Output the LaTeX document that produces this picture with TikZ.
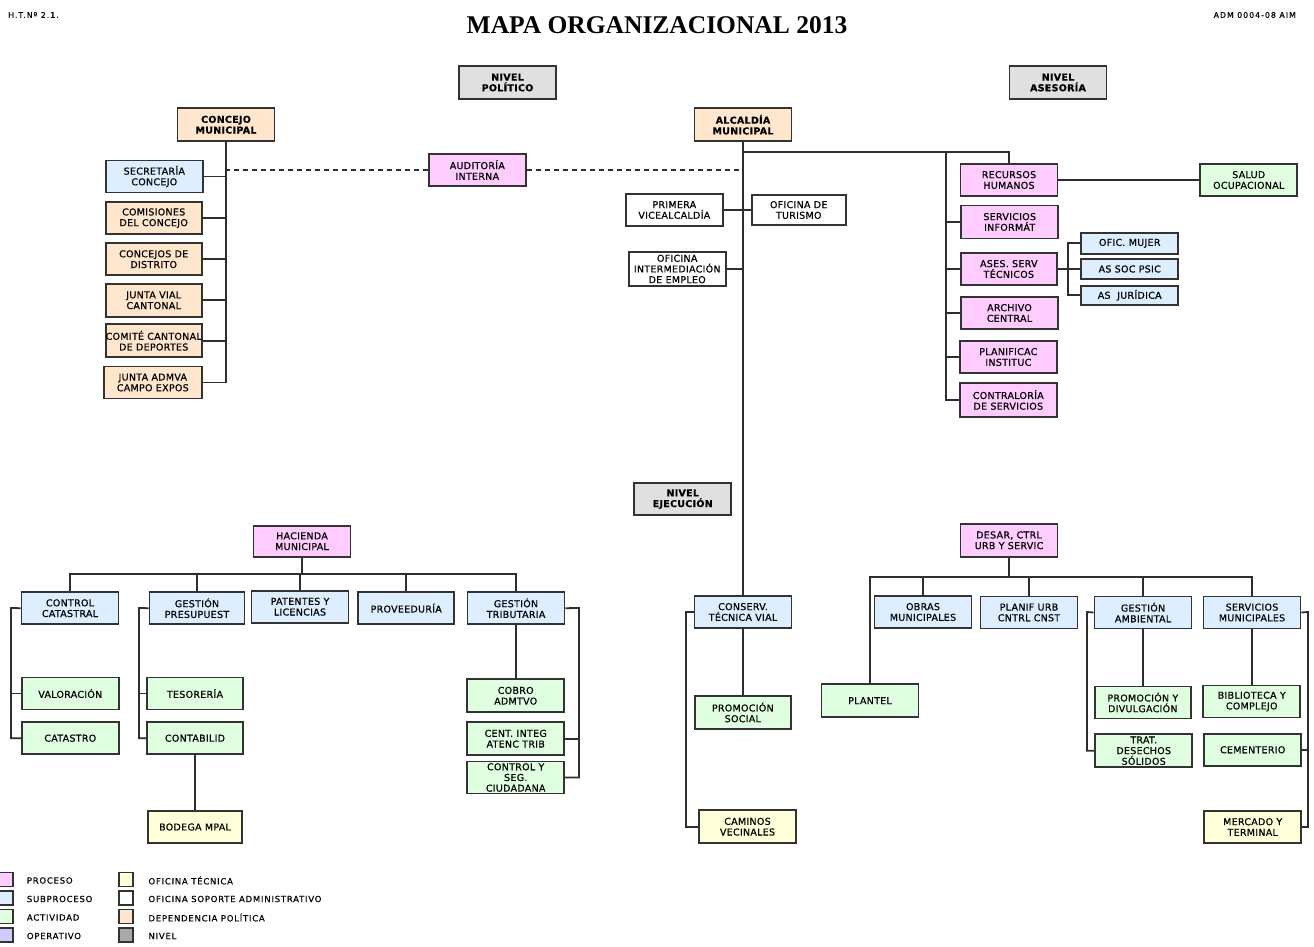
\documentclass[tikz,border=0pt]{standalone}
\usepackage{fontspec}
\newfontfamily\boxfont[LetterSpace=3,FakeBold=0.6]{DejaVu Sans}
\newfontfamily\legfont[LetterSpace=9,FakeBold=0.5]{DejaVu Sans}
\newfontfamily\hdrfont[LetterSpace=13,FakeBold=0.5]{DejaVu Sans}
\newfontfamily\titlefont{Liberation Serif}
\definecolor{procfill}{HTML}{FFCCFF}
\definecolor{subfill}{HTML}{DCEEFF}
\definecolor{actfill}{HTML}{E0FFE0}
\definecolor{opfill}{HTML}{CCCCFF}
\definecolor{tecfill}{HTML}{FFFFD9}
\definecolor{polfill}{HTML}{FFE6CC}
\definecolor{nivfill}{HTML}{E0E0E0}
\definecolor{nivleg}{HTML}{A8A8A8}
\definecolor{edge}{HTML}{333333}
\definecolor{lk}{HTML}{2E2E2E}
\tikzset{
  box/.style={draw=edge, line width=1.8pt, minimum width=97pt, minimum height=32pt,
    inner sep=0pt, align=center, text=black, font=\boxfont\fontsize{9.5}{10.7}\selectfont},
  hdr/.style={box, font=\boxfont\bfseries\fontsize{9.5}{10.7}\selectfont},
  proc/.style={box, fill=procfill},
  sub/.style={box, fill=subfill},
  act/.style={box, fill=actfill},
  tec/.style={box, fill=tecfill},
  pol/.style={box, fill=polfill},
  sop/.style={box, fill=white},
  polh/.style={hdr, fill=polfill},
  nivel/.style={hdr, fill=nivfill},
  link/.style={draw=lk, line width=1.8pt},
  dlink/.style={link, dash pattern=on 5pt off 4pt},
  legsq/.style={draw=edge, line width=1.5pt, minimum width=14pt, minimum height=14pt, inner sep=0pt},
  legtxt/.style={anchor=west, inner sep=0pt, text=black, font=\legfont\fontsize{8.5}{10}\selectfont},
  smalltxt/.style={inner sep=0pt, text=black, font=\hdrfont\fontsize{7.8}{9}\selectfont}
}
\begin{document}
\begin{tikzpicture}[x=1pt,y=-1pt]
\useasboundingbox (0,0) rectangle (1314,947);

% page header
\node[smalltxt, anchor=west] (htn) at (8,15) {H.T.Nº 2.1.};
\node[smalltxt, anchor=east] (adm) at (1296,15) {ADM 0004-08 AIM};
\node[inner sep=0pt, font=\titlefont\bfseries\fontsize{25.5}{30}\selectfont] (title) at (657,25) {MAPA ORGANIZACIONAL 2013};

% levels
\node[nivel, minimum height=33.6pt] (nivpol) at (507.5,82.5) {NIVEL\\POLÍTICO};
\node[nivel, minimum height=33.6pt] (nivase) at (1058,82.5) {NIVEL\\ASESORÍA};
\node[nivel, minimum height=31.7pt] (nivejec) at (682.7,499.2) {NIVEL\\EJECUCIÓN};

% political level
\node[polh, minimum height=33pt] (concejo) at (226,124.7) {CONCEJO\\MUNICIPAL};
\node[polh, minimum height=33pt] (alcaldia) at (743,124.7) {ALCALDÍA\\MUNICIPAL};
\node[sub] (secretaria) at (154.3,176.5) {SECRETARÍA\\CONCEJO};
\node[pol, minimum width=96pt] (comisiones) at (153.7,218.2) {COMISIONES\\DEL CONCEJO};
\node[pol, minimum width=96pt] (concdist) at (153.7,259.2) {CONCEJOS DE\\DISTRITO};
\node[pol, minimum width=96pt, minimum height=32.7pt] (juntavial) at (153.7,300.3) {JUNTA VIAL\\CANTONAL};
\node[pol, minimum width=96pt, minimum height=33pt] (comite) at (153.7,340.8) {COMITÉ CANTONAL\\DE DEPORTES};
\node[pol, minimum width=97.7pt] (juntaadm) at (152.8,382.5) {JUNTA ADMVA\\CAMPO EXPOS};
\node[proc] (auditoria) at (477.3,170) {AUDITORÍA\\INTERNA};
\node[sop] (vicealc) at (674.3,210) {PRIMERA\\VICEALCALDÍA};
\node[sop, minimum width=94pt, minimum height=30.7pt] (turismo) at (798.7,210) {OFICINA DE\\TURISMO};
\node[sop, minimum height=34pt] (ofinter) at (677.2,269) {OFICINA\\INTERMEDIACIÓN\\DE EMPLEO};

% advisory level
\node[proc, minimum height=32.7pt] (rrhh) at (1009,180) {RECURSOS\\HUMANOS};
\node[act, minimum height=32.7pt] (salud) at (1248.7,180) {SALUD\\OCUPACIONAL};
\node[proc, minimum height=33pt] (servinf) at (1009.7,222) {SERVICIOS\\INFORMÁT};
\node[proc, minimum width=95.7pt, minimum height=31.3pt] (asesserv) at (1008.8,269) {ASES. SERV\\TÉCNICOS};
\node[sub, minimum height=21.3pt] (ofmujer) at (1129.7,243.3) {OFIC. MUJER};
\node[sub, minimum height=20pt] (assoc) at (1129.7,269) {AS SOC PSIC};
\node[sub, minimum height=19.3pt] (asjur) at (1129.7,295.3) {AS\ \ JURÍDICA};
\node[proc] (archivo) at (1009.5,313) {ARCHIVO\\CENTRAL};
\node[proc, minimum height=32.7pt] (planif) at (1008.3,357) {PLANIFICAC\\INSTITUC};
\node[proc, minimum height=33.3pt] (contral) at (1008.3,400) {CONTRALORÍA\\DE SERVICIOS};

% execution level: hacienda
\node[proc, minimum height=31pt] (hacienda) at (302,541.2) {HACIENDA\\MUNICIPAL};
\node[sub] (ctrlcat) at (70,608.2) {CONTROL\\CATASTRAL};
\node[sub, minimum width=95pt] (gestpres) at (197,608.2) {GESTIÓN\\PRESUPUEST};
\node[sub] (patentes) at (300,606.7) {PATENTES Y\\LICENCIAS};
\node[sub, minimum width=95.7pt] (proveed) at (406.2,608.2) {PROVEEDURÍA};
\node[sub] (gesttrib) at (516,608.2) {GESTIÓN\\TRIBUTARIA};
\node[act] (valor) at (70.3,693.5) {VALORACIÓN};
\node[act] (catastro) at (70.3,738.2) {CATASTRO};
\node[act, minimum width=95.4pt] (tesoreria) at (195,693.5) {TESORERÍA};
\node[act, minimum width=95.4pt] (contab) at (195,738.2) {CONTABILID};
\node[tec, minimum width=94.6pt, minimum height=32.6pt] (bodega) at (195,827) {BODEGA MPAL};
\node[act, minimum height=33pt] (cobro) at (515.7,695.8) {COBRO\\ADMTVO};
\node[act, minimum height=32.7pt] (centinteg) at (515.7,738.7) {CENT. INTEG\\ATENC TRIB};
\node[act] (ctrlseg) at (515.7,777.5) {CONTROL Y\\SEG.\\CIUDADANA};

% execution level: roads
\node[sub] (conserv) at (743,612) {CONSERV.\\TÉCNICA VIAL};
\node[act, minimum width=95.7pt, minimum height=33pt] (promsoc) at (742.8,712.5) {PROMOCIÓN\\SOCIAL};
\node[tec, minimum height=33.3pt] (caminos) at (747.5,826.7) {CAMINOS\\VECINALES};

% execution level: urban development
\node[proc, minimum height=32.7pt] (desar) at (1009,540.3) {DESAR, CTRL\\URB Y SERVIC};
\node[act, minimum height=33.3pt] (plantel) at (870,700.7) {PLANTEL};
\node[sub] (obras) at (923,612) {OBRAS\\MUNICIPALES};
\node[sub] (planurb) at (1029,612.5) {PLANIF URB\\CNTRL CNST};
\node[sub] (gestamb) at (1143,612.5) {GESTIÓN\\AMBIENTAL};
\node[sub] (servmun) at (1252,612.5) {SERVICIOS\\MUNICIPALES};
\node[act, minimum width=95.7pt] (promdiv) at (1142.8,702.5) {PROMOCIÓN Y\\DIVULGACIÓN};
\node[act, minimum height=33.3pt] (trat) at (1143.7,750.7) {TRAT.\\DESECHOS\\SÓLIDOS};
\node[act] (biblio) at (1251.7,701.5) {BIBLIOTECA Y\\COMPLEJO};
\node[act] (cement) at (1252.7,749.8) {CEMENTERIO};
\node[tec, minimum height=32.6pt] (mercado) at (1252.7,827) {MERCADO Y\\TERMINAL};

% junction points
\coordinate (aj) at (743,152);
\coordinate (rail) at (946,152);
\coordinate (abr) at (1068,269);
\coordinate (hbar) at (302,574);
\coordinate (ccbr) at (11,608);
\coordinate (gpbr) at (139,608);
\coordinate (gtbr) at (579,608);
\coordinate (cvbr) at (686,612);
\coordinate (dbar) at (1009,577);
\coordinate (gabr) at (1087,612);
\coordinate (smbr) at (1308,612);

% concejo branch
\draw[link] (concejo.south) -- (concejo.south |- juntaadm.east) -- (juntaadm.east);
\foreach \n in {secretaria,comisiones,concdist,juntavial,comite}
  \draw[link] (\n.east) -- (\n.east -| concejo.south);
\draw[dlink] (auditoria.west) -- (auditoria.west -| concejo.south);
\draw[dlink] (auditoria.east) -- (auditoria.east -| alcaldia.south);

% alcaldia trunk
\draw[link] (alcaldia.south) -- (alcaldia.south |- conserv.north);
\draw[link] (vicealc.east) -- (turismo.west);
\draw[link] (ofinter.east) -- (ofinter.east -| alcaldia.south);

% advisory branch
\draw[link] (aj) -- (aj -| rrhh.north) -- (rrhh.north);
\draw[link] (rail) -- (rail |- contral.west) -- (contral.west);
\foreach \n in {servinf,asesserv,archivo,planif}
  \draw[link] (\n.west) -- (\n.west -| rail);
\draw[link] (rrhh.east) -- (salud.west);
\draw[link] (asesserv.east) -- (abr);
\draw[link] (ofmujer.west) -- (ofmujer.west -| abr) -- (asjur.west -| abr) -- (asjur.west);
\draw[link] (assoc.west) -- (assoc.west -| abr);

% hacienda branch
\draw[link] (hacienda.south) -- (hacienda.south |- hbar);
\draw[link] (ctrlcat.north) -- (ctrlcat.north |- hbar) -- (gesttrib.north |- hbar) -- (gesttrib.north);
\foreach \n in {gestpres,patentes,proveed}
  \draw[link] (\n.north) -- (\n.north |- hbar);
\draw[link] (ctrlcat.west) -- (ccbr) -- (ccbr |- catastro.west) -- (catastro.west);
\draw[link] (valor.west) -- (valor.west -| ccbr);
\draw[link] (gestpres.west) -- (gpbr) -- (gpbr |- contab.west) -- (contab.west);
\draw[link] (tesoreria.west) -- (tesoreria.west -| gpbr);
\draw[link] (contab.south) -- (contab.south |- bodega.north);
\draw[link] (gesttrib.south) -- (gesttrib.south |- cobro.north);
\draw[link] (gesttrib.east) -- (gtbr) -- (gtbr |- ctrlseg.east) -- (ctrlseg.east);
\draw[link] (centinteg.east) -- (centinteg.east -| gtbr);

% roads branch
\draw[link] (conserv.south) -- (conserv.south |- promsoc.north);
\draw[link] (conserv.west) -- (cvbr) -- (cvbr |- caminos.west) -- (caminos.west);

% urban development branch
\draw[link] (desar.south) -- (dbar);
\draw[link] (plantel.north) -- (plantel.north |- dbar) -- (servmun.north |- dbar) -- (servmun.north);
\foreach \n in {obras,planurb,gestamb}
  \draw[link] (\n.north) -- (\n.north |- dbar);
\draw[link] (gestamb.south) -- (gestamb.south |- promdiv.north);
\draw[link] (gestamb.west) -- (gabr) -- (gabr |- trat.west) -- (trat.west);
\draw[link] (servmun.south) -- (servmun.south |- biblio.north);
\draw[link] (servmun.east) -- (smbr) -- (smbr |- mercado.east) -- (mercado.east);
\draw[link] (cement.east) -- (cement.east -| smbr);

% legend
\node[legsq, fill=procfill] (lg1) at (6,879.7) {};
\node[legsq, fill=subfill] (lg2) at (6,898) {};
\node[legsq, fill=actfill] (lg3) at (6,916.5) {};
\node[legsq, fill=opfill] (lg4) at (6,935) {};
\node[legtxt] (lt1) at (26.7,880.5) {PROCESO};
\node[legtxt] (lt2) at (26.7,899) {SUBPROCESO};
\node[legtxt] (lt3) at (26.7,917.5) {ACTIVIDAD};
\node[legtxt] (lt4) at (26.7,936) {OPERATIVO};
\node[legsq, fill=tecfill] (lg5) at (125.8,879.7) {};
\node[legsq, fill=white] (lg6) at (125.8,898) {};
\node[legsq, fill=polfill] (lg7) at (125.8,916.5) {};
\node[legsq, fill=nivleg] (lg8) at (125.8,935) {};
\node[legtxt] (lt5) at (148.3,880.5) {OFICINA TÉCNICA};
\node[legtxt] (lt6) at (148.3,899) {OFICINA SOPORTE ADMINISTRATIVO};
\node[legtxt] (lt7) at (148.3,917.5) {DEPENDENCIA POLÍTICA};
\node[legtxt] (lt8) at (148.3,936) {NIVEL};
\end{tikzpicture}
\end{document}
